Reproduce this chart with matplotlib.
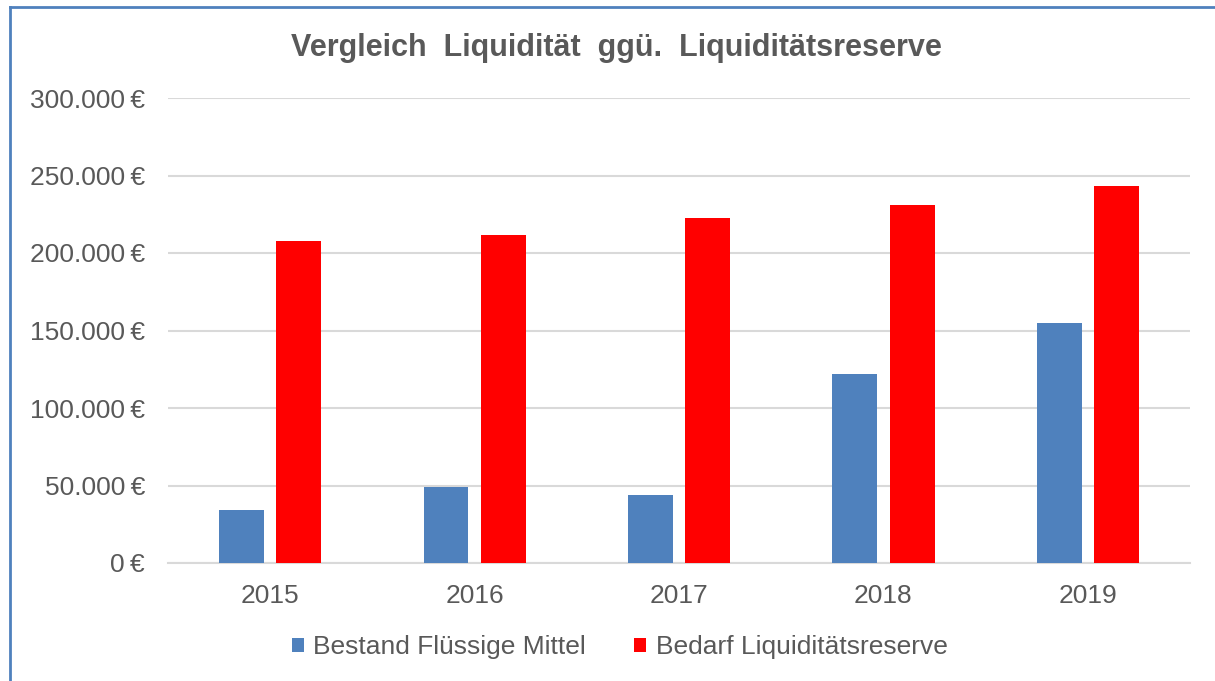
import matplotlib.pyplot as plt
from matplotlib.lines import Line2D
from matplotlib.ticker import FuncFormatter
import numpy as np

plt.rcParams['font.family'] = ['Liberation Sans', 'DejaVu Sans']

years = ['2015', '2016', '2017', '2018', '2019']
bestand = [34000, 49000, 44000, 122000, 155000]
bedarf = [207500, 211500, 222500, 231000, 243000]

blue = '#4F81BD'
red = '#FF0000'
text_grey = '#595959'

fig = plt.figure(figsize=(12.15, 6.81), dpi=100)
ax = fig.add_axes([168 / 1215, 1 - 563 / 681, (1190 - 168) / 1215, (563 - 98) / 681])

x = np.arange(len(years))
w = 0.22
ax.bar(x - 0.14, bestand, w, color=blue, label='Bestand Flüssige Mittel', zorder=3)
ax.bar(x + 0.14, bedarf, w, color=red, label='Bedarf Liquiditätsreserve', zorder=3)

ax.set_xlim(-0.5, len(years) - 0.5)
ax.set_ylim(0, 300000)
ax.set_yticks(np.arange(0, 300001, 50000))
ax.yaxis.set_major_formatter(FuncFormatter(lambda v, p: f"{int(v):,}\u2009€".replace(',', '.')))
ax.set_xticks(x)
ax.set_xticklabels(years)

ax.grid(axis='y', color='#D9D9D9', linewidth=1.5, zorder=0)
for s in ['top', 'right', 'left']:
    ax.spines[s].set_visible(False)
ax.spines['bottom'].set_color('#D9D9D9')
ax.spines['bottom'].set_linewidth(1.5)
ax.tick_params(axis='both', length=0, labelsize=19, colors=text_grey)
ax.tick_params(axis='x', pad=15)
ax.tick_params(axis='y', pad=16.5)

fig.text(0.507, 1 - 48 / 681, 'Vergleich  Liquidität  ggü.  Liquiditätsreserve',
         ha='center', va='center', fontsize=22, fontweight='bold', color=text_grey)

fig.legend(loc='center', bbox_to_anchor=(0.510, 1 - 647 / 681), ncol=2, frameon=False,
           fontsize=19, labelcolor=text_grey, handlelength=0.45, handleheight=0.45,
           handletextpad=0.35, columnspacing=1.85)

# outer chart frame (cut off at right/bottom)
fig.add_artist(Line2D([10 / 1215, 10 / 1215], [0, 1 - 7 / 681], transform=fig.transFigure,
                      color=blue, linewidth=2))
fig.add_artist(Line2D([10 / 1215, 1], [1 - 7 / 681, 1 - 7 / 681], transform=fig.transFigure,
                      color=blue, linewidth=2))

fig.savefig('out.png', dpi=100)
